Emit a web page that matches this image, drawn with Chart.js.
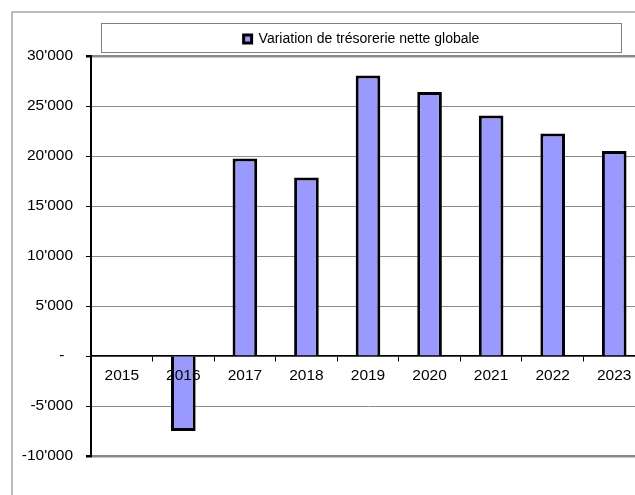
<!DOCTYPE html>
<html>
<head>
<meta charset="utf-8">
<script src="https://cdn.jsdelivr.net/npm/chart.js@4"></script>
<style>
  html, body { margin: 0; padding: 0; background: #fff; overflow: hidden; }
  #wrap { width: 635px; height: 495px; overflow: hidden; }
  #box { width: 660px; height: 495px; }
</style>
</head>
<body>
<div id="wrap"><div id="box"><canvas id="chart"></canvas></div></div>
<script>
const years = ['2015', '2016', '2017', '2018', '2019', '2020', '2021', '2022', '2023'];
const variation = [0, -7500, 19750, 17850, 28050, 26400, 24050, 22250, 20500];
const seriesName = 'Variation de trésorerie nette globale';
const yTicks = [-10000, -5000, 0, 5000, 10000, 15000, 20000, 25000, 30000];
const yTickLabels = ["-10'000", "-5'000", "-  ", "5'000", "10'000", "15'000", "20'000", "25'000", "30'000"];

const FONT = 'Arial, "Liberation Sans", sans-serif';

// cadre extérieur + cadre de la légende (légende recentrée dans son cadre)
const frames = {
    id: 'frames',
    afterLayout(chart) {
        const lg = chart.legend;
        lg.left = 101;
        lg.right = 622;
        lg.width = 521;
    },
    beforeDraw(chart) {
        const c = chart.ctx;
        const lg = chart.legend;
        c.save();
        c.strokeStyle = '#a6a6a6';
        c.lineWidth = 1.5;
        c.beginPath();
        c.moveTo(12, 500);
        c.lineTo(12, 12);
        c.lineTo(700, 12);
        c.stroke();
        c.strokeStyle = '#808080';
        c.lineWidth = 1;
        c.strokeRect(lg.left + 0.5, 23.5, lg.width - 1, 29);
        c.restore();
    }
};

new Chart(document.getElementById('chart'), {
    type: 'bar',
    data: {
        labels: years,
        datasets: [{
            label: seriesName,
            data: variation,
            backgroundColor: '#9999ff',
            borderColor: '#000000',
            borderWidth: 3,
            barPercentage: 0.4,
            categoryPercentage: 1.0
        }]
    },
    options: {
        responsive: true,
        maintainAspectRatio: false,
        animation: false,
        layout: {
            padding: { left: 21, right: 15, top: 21, bottom: 39 }
        },
        scales: {
            x: {
                position: { y: 0 },
                offset: true,
                grid: {
                    offset: true,
                    drawOnChartArea: false,
                    drawTicks: true,
                    tickLength: 5,
                    tickColor: '#000'
                },
                border: { display: true, color: '#000', width: 1.5 },
                ticks: {
                    z: 1, // libellés des années au-dessus des barres
                    color: '#000',
                    padding: 5,
                    font: { family: FONT, size: 15.5 }
                }
            },
            y: {
                min: -10000,
                max: 30000,
                afterFit(s) { s.width = 70; },
                afterBuildTicks(s) { s.ticks = yTicks.map(v => ({ value: v })); },
                grid: {
                    color: ctx => (ctx.tick && (ctx.tick.value === 30000 || ctx.tick.value === -10000)) ? '#8a8a8a' : '#8c8c8c',
                    lineWidth: ctx => (ctx.tick && (ctx.tick.value === 30000 || ctx.tick.value === -10000)) ? 2.5 : 1,
                    tickLength: 5,
                    tickColor: '#000'
                },
                border: { display: true, color: '#000', width: 2 },
                ticks: {
                    color: '#000',
                    padding: 13,
                    font: { family: FONT, size: 15.5 },
                    callback: (v) => yTickLabels[yTicks.indexOf(v)]
                }
            }
        },
        plugins: {
            legend: {
                display: true,
                position: 'top',
                labels: {
                    color: '#000',
                    boxWidth: 8,
                    boxHeight: 8,
                    padding: 11,
                    font: { family: FONT, size: 14 }
                }
            },
            tooltip: { enabled: false }
        }
    },
    plugins: [frames]
});
</script>
</body>
</html>
